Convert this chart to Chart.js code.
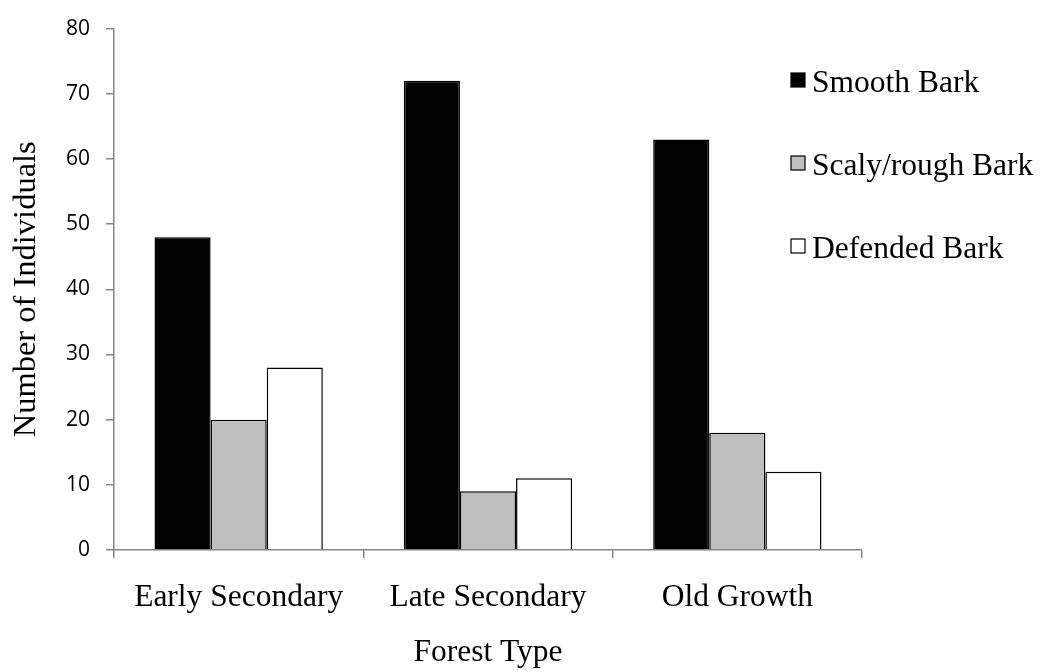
<!DOCTYPE html>
<html>
<head>
<meta charset="utf-8">
<script src="https://cdn.jsdelivr.net/npm/chart.js@4"></script>
<style>
  html, body { margin: 0; padding: 0; background: #fff; }
  #wrap { width: 1043px; height: 672px; }
</style>
</head>
<body>
<div id="wrap"><canvas id="barkChart" width="1043" height="672"></canvas></div>
<script>
// forest types and counts per bark type
const forestTypes = ['Early Secondary', 'Late Secondary', 'Old Growth'];
const smoothBark = [48, 72, 63];
const scalyBark = [20, 9, 18];
const defendedBark = [28, 11, 12];
const yTicks = [0, 10, 20, 30, 40, 50, 60, 70, 80];

const serif = '"Liberation Serif", "Times New Roman", serif';
const axisGray = '#868686';

// legend drawn by hand, to the right of the plot
const sideLegend = {
  id: 'sideLegend',
  afterDraw(chart) {
    const ctx = chart.ctx;
    ctx.save();
    ctx.font = '31.5px ' + serif;
    ctx.textBaseline = 'alphabetic';
    ctx.textAlign = 'left';
    chart.data.datasets.forEach((ds, i) => {
      const cy = 80 + i * 83;
      ctx.fillStyle = ds.backgroundColor;
      ctx.fillRect(791, cy - 7, 14, 14);
      ctx.strokeStyle = '#000';
      ctx.lineWidth = 1.2;
      ctx.strokeRect(791, cy - 7, 14, 14);
      ctx.fillStyle = '#000';
      ctx.fillText(ds.label, 812, cy + 12);
    });
    ctx.restore();
  }
};

new Chart(document.getElementById('barkChart'), {
  type: 'bar',
  data: {
    labels: forestTypes,
    datasets: [
      { label: 'Smooth Bark', data: smoothBark, backgroundColor: '#000000' },
      { label: 'Scaly/rough Bark', data: scalyBark, backgroundColor: '#bfbfbf' },
      { label: 'Defended Bark', data: defendedBark, backgroundColor: '#ffffff' }
    ]
  },
  options: {
    responsive: false,
    animation: false,
    layout: { padding: { left: 0, top: 20, right: 181, bottom: 0 } },
    datasets: {
      bar: {
        borderColor: '#000',
        borderWidth: 1.5,
        categoryPercentage: 0.675,
        barPercentage: 1
      }
    },
    plugins: {
      legend: { display: false },
      tooltip: { enabled: false }
    },
    scales: {
      x: {
        afterFit(scale) { scale.height = 122; },
        grid: {
          display: true,
          offset: true,
          drawOnChartArea: false,
          drawTicks: true,
          tickLength: 8,
          color: axisGray,
          lineWidth: 1.5
        },
        border: { color: axisGray, width: 1.5 },
        ticks: {
          color: '#000',
          font: { family: serif, size: 31.5 },
          padding: 21
        },
        title: {
          display: true,
          text: 'Forest Type',
          color: '#000',
          font: { family: serif, size: 31.5 },
          padding: { top: 0, bottom: 0 }
        }
      },
      y: {
        min: 0,
        max: 80,
        afterFit(scale) { scale.width = 114; },
        afterBuildTicks(scale) { scale.ticks = yTicks.map(v => ({ value: v })); },
        grid: {
          display: true,
          drawOnChartArea: false,
          drawTicks: true,
          tickLength: 8,
          color: axisGray,
          lineWidth: 1.5
        },
        border: { color: axisGray, width: 1.5 },
        ticks: {
          color: '#000',
          font: { family: '"Open Sans", sans-serif', size: 21 },
          padding: 16
        },
        title: {
          display: true,
          text: 'Number of Individuals',
          color: '#000',
          font: { family: serif, size: 32.5 },
          padding: { top: 7, bottom: 0 }
        }
      }
    }
  },
  plugins: [sideLegend]
});
</script>
</body>
</html>
